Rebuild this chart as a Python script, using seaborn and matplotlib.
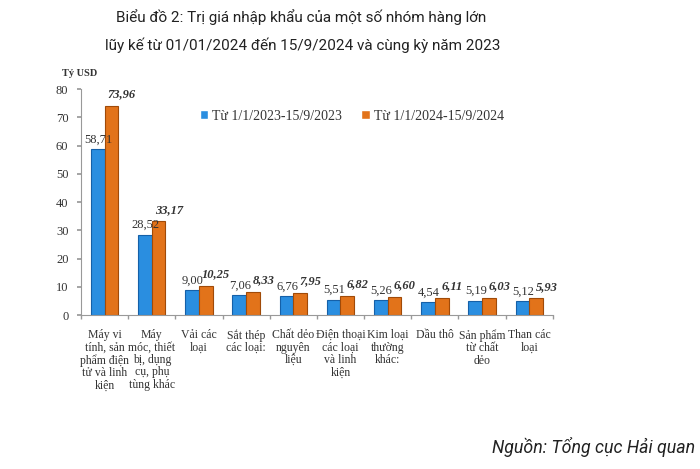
import matplotlib
matplotlib.use("Agg")
import matplotlib.pyplot as plt
import seaborn as sns
import pandas as pd
import numpy as np

categories = ["Máy vi\ntính, sản\nphẩm điện\ntử và linh\nkiện",
              "Máy\nmóc, thiết\nbị, dụng\ncụ, phụ\ntùng khác",
              "Vải các\nloại",
              "Sắt thép\ncác loại:",
              "Chất dẻo\nnguyên\nliệu",
              "Điện thoại\ncác loại\nvà linh\nkiện",
              "Kim loại\nthường\nkhác:",
              "Dầu thô",
              "Sản phẩm\ntừ chất\ndẻo",
              "Than các\nloại"]
series_names = ["Từ 1/1/2023-15/9/2023", "Từ 1/1/2024-15/9/2024"]
values_2023 = [58.71, 28.52, 9.00, 7.06, 6.76, 5.51, 5.26, 4.54, 5.19, 5.12]
values_2024 = [73.96, 33.17, 10.25, 8.33, 7.95, 6.82, 6.60, 6.11, 6.03, 5.93]
labels_2023 = ["58,71", "28,52", "9,00", "7,06", "6,76", "5,51", "5,26", "4,54", "5,19", "5,12"]
labels_2024 = ["73,96", "33,17", "10,25", "8,33", "7,95", "6,82", "6,60", "6,11", "6,03", "5,93"]
yticks = [0, 10, 20, 30, 40, 50, 60, 70, 80]

df = pd.DataFrame({
    "cat": categories * 2,
    "series": [series_names[0]] * len(categories) + [series_names[1]] * len(categories),
    "value": values_2023 + values_2024,
})

sns.set_theme(style="white")
plt.rcParams["font.family"] = ["Liberation Serif", "DejaVu Serif"]

fig = plt.figure(figsize=(7, 4.69), dpi=100)
ax = fig.add_axes([0.1157, 0.328, 0.674, 0.482])

colors = {series_names[0]: "#2a8ee0", series_names[1]: "#e2731a"}
sns.barplot(data=df, x="cat", y="value", hue="series", palette=colors,
            width=0.58, ax=ax, saturation=1, legend=True)

edge = {0: "#1560a8", 1: "#a04a08"}
for i, cont in enumerate(ax.containers):
    for p in cont:
        p.set_edgecolor(edge[i])
        p.set_linewidth(0.8)

# value labels
for j, p in enumerate(ax.containers[0]):
    ax.text(p.get_x() + p.get_width() * 0.55, p.get_height() + 1.2, labels_2023[j],
            ha="center", va="bottom", fontsize=9, color="#333333")
for j, p in enumerate(ax.containers[1]):
    ax.text(p.get_x() + p.get_width() * 1.25, p.get_height() + 2.0, labels_2024[j],
            ha="center", va="bottom", fontsize=9, fontweight="bold", fontstyle="italic",
            color="#333333")

ax.set_ylim(0, 80)
ax.set_xlim(-0.5, len(categories) - 0.5)
ax.set_yticks(yticks)
ax.set_yticklabels([str(t) for t in yticks], fontsize=9, color="#333333")
ax.set_xticks(range(len(categories)))
ax.set_xticklabels(categories, fontsize=8.5, color="#333333", linespacing=1.05, va="top")
ax.tick_params(axis="x", length=0, pad=10)
ax.tick_params(axis="y", length=3, color="#999999", direction="out", left=True, pad=6)
# minor ticks at category boundaries
ax.set_xticks(np.arange(-0.5, len(categories), 1.0), minor=True)
ax.tick_params(axis="x", which="minor", length=3, color="#999999", bottom=True)
ax.set_xlabel("")
ax.set_ylabel("")
for s in ["top", "right"]:
    ax.spines[s].set_visible(False)
for s in ["left", "bottom"]:
    ax.spines[s].set_color("#999999")
    ax.spines[s].set_linewidth(0.8)

leg = ax.legend(loc="upper left", bbox_to_anchor=(0.225, 0.965), ncol=2, frameon=False,
                fontsize=10, handlelength=0.6, handleheight=0.6, columnspacing=1.4,
                handletextpad=0.3)
for t in leg.get_texts():
    t.set_color("#333333")

fig.text(0.088, 0.843, "Tỷ USD", fontsize=7.5, fontweight="bold", color="#333333",
         ha="left", va="center")

fig.text(0.43, 0.963, "Biểu đồ 2: Trị giá nhập khẩu của một số nhóm hàng lớn",
         fontsize=11, family=["Roboto", "DejaVu Sans"], ha="center", va="center", color="#222222")
fig.text(0.433, 0.903, "lũy kế từ 01/01/2024 đến 15/9/2024 và cùng kỳ năm 2023",
         fontsize=11, family=["Roboto", "DejaVu Sans"], ha="center", va="center", color="#222222")
fig.text(0.993, 0.047, "Nguồn: Tổng cục Hải quan", fontsize=12.8, fontstyle="italic",
         family=["Roboto", "DejaVu Sans"], ha="right", va="center", color="#222222")

fig.savefig("out.png", dpi=100)
